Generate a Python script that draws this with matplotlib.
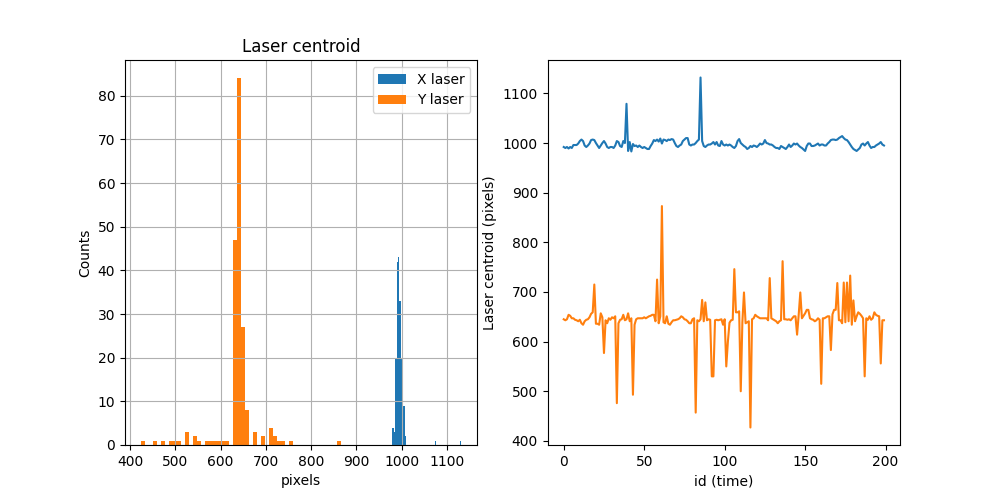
import numpy as np
import matplotlib
matplotlib.use("Agg")
import matplotlib.pyplot as plt

# histogram range (pixels), 50 bins each
x_hist_range = (979.5, 1131.5)
y_hist_range = (424.0, 866.0)

x_hist_counts = [4, 3, 20, 42, 43, 33, 20, 16, 9, 2,
                 0, 0, 0, 0, 0, 0, 0, 0, 0, 0,
                 0, 0, 0, 0, 0, 0, 0, 0, 0, 0,
                 0, 1, 0, 0, 0, 0, 0, 0, 0, 0,
                 0, 0, 0, 0, 0, 0, 0, 0, 0, 1]

y_hist_counts = [1, 0, 0, 1, 0, 1, 0, 1, 1, 1,
                 0, 3, 0, 2, 1, 0, 1, 1, 1, 1,
                 1, 1, 0, 47, 84, 27, 8, 0, 3, 0,
                 2, 0, 4, 2, 1, 1, 0, 1, 0, 0,
                 0, 0, 0, 0, 0, 0, 0, 0, 0, 1]

# centroid per frame, id 0..199
x_centroid = [
    992, 990, 992, 989, 992, 990, 996, 996, 996, 999,
    1004, 1007, 1004, 995, 992, 995, 999, 1006, 1007, 1006,
    1000, 995, 990, 995, 1000, 1004, 999, 992, 990, 992,
    992, 990, 995, 1004, 1002, 994, 992, 1004, 1000, 1079,
    984, 1002, 983, 998, 994, 995, 992, 995, 992, 990,
    992, 990, 988, 988, 994, 999, 1006, 1004, 1007, 1003,
    1009, 999, 1007, 1006, 1004, 1007, 1006, 1008, 1007, 1000,
    994, 992, 995, 997, 1004, 1007, 1010, 1010, 997, 995,
    997, 997, 1000, 1004, 1007, 1132, 1004, 994, 992, 995,
    997, 997, 999, 1002, 997, 1002, 995, 994, 1004, 997,
    995, 997, 995, 997, 995, 992, 990, 994, 1004, 1008,
    1000, 997, 994, 992, 988, 990, 994, 992, 995, 994,
    992, 995, 999, 997, 999, 1006, 1000, 999, 997, 997,
    995, 992, 990, 990, 988, 994, 992, 990, 988, 992,
    997, 992, 995, 999, 997, 999, 995, 992, 990, 987,
    984, 994, 999, 999, 994, 994, 995, 997, 999, 995,
    997, 997, 995, 995, 999, 1002, 1006, 1007, 1007, 1006,
    1007, 1010, 1012, 1014, 1010, 1007, 1006, 1002, 997, 992,
    988, 986, 984, 987, 990, 997, 999, 995, 999, 1002,
    995, 990, 992, 992, 995, 997, 999, 1002, 997, 995,
]

y_centroid = [
    645, 643, 645, 654, 652, 647, 647, 644, 643, 641,
    644, 637, 634, 641, 644, 645, 649, 656, 659, 715,
    636, 636, 634, 657, 649, 577, 643, 637, 647, 644,
    649, 647, 651, 476, 637, 644, 645, 654, 643, 645,
    657, 641, 647, 493, 634, 645, 647, 647, 647, 647,
    649, 647, 649, 651, 652, 654, 654, 641, 725, 637,
    651, 873, 639, 637, 651, 636, 634, 639, 643, 643,
    644, 645, 647, 651, 649, 645, 644, 641, 637, 637,
    645, 647, 457, 643, 641, 645, 684, 641, 679, 643,
    645, 644, 530, 530, 643, 644, 643, 644, 645, 634,
    645, 550, 600, 638, 643, 644, 746, 659, 659, 661,
    500, 639, 699, 637, 639, 641, 427, 645, 647, 654,
    651, 649, 647, 647, 647, 647, 647, 643, 728, 647,
    645, 643, 641, 637, 641, 643, 762, 645, 645, 644,
    645, 643, 647, 651, 651, 614, 654, 699, 647, 652,
    657, 664, 664, 647, 645, 644, 641, 643, 647, 644,
    515, 647, 647, 649, 651, 651, 583, 655, 664, 664,
    718, 643, 643, 637, 719, 639, 719, 641, 733, 634,
    683, 641, 651, 659, 656, 652, 647, 530, 647, 644,
    651, 644, 647, 659, 654, 652, 651, 556, 643, 643,
]


def plot_histogram(ax):
    """左圖: 兩個雷射中心位置的直方圖"""
    x_edges = np.linspace(*x_hist_range, len(x_hist_counts) + 1)
    y_edges = np.linspace(*y_hist_range, len(y_hist_counts) + 1)
    ax.hist(x_edges[:-1], bins=x_edges, weights=x_hist_counts, label='X laser')
    ax.hist(y_edges[:-1], bins=y_edges, weights=y_hist_counts, label='Y laser')
    ax.set_title('Laser centroid')
    ax.set_xlabel('pixels')
    ax.set_ylabel('Counts')
    ax.grid(True)
    ax.legend(loc='upper right')


def plot_timeline(ax):
    """右圖: 隨時間變化的中心位置"""
    ids = np.arange(len(x_centroid))
    ax.plot(ids, x_centroid)
    ax.plot(ids, y_centroid)
    ax.set_xlabel('id (time)')
    ax.set_ylabel('Laser centroid (pixels)')


fig, (ax1, ax2) = plt.subplots(1, 2, figsize=(10, 5), dpi=100)
plot_histogram(ax1)
plot_timeline(ax2)
fig.savefig('out.png', dpi=100)
